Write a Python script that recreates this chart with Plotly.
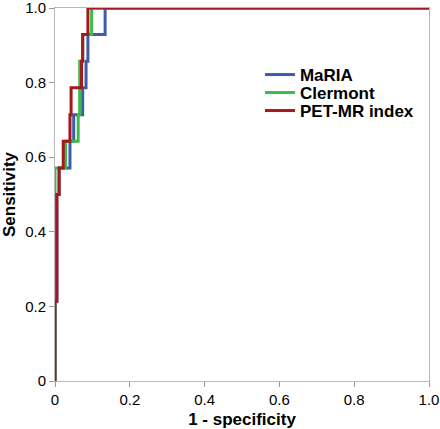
import plotly.graph_objects as go

# ROC step curves (1 - specificity, sensitivity)
maria_fpr = [0, 0, 0.005, 0.005, 0.011, 0.011, 0.040, 0.040, 0.050, 0.050, 0.074, 0.074, 0.083, 0.083, 0.088, 0.088, 0.134, 0.134, 1.0]
maria_tpr = [0, 0.214, 0.214, 0.5, 0.5, 0.571, 0.571, 0.643, 0.643, 0.714, 0.714, 0.786, 0.786, 0.857, 0.857, 0.929, 0.929, 1.0, 1.0]

clermont_fpr = [0, 0, 0.028, 0.028, 0.062, 0.062, 0.066, 0.066, 0.074, 0.074, 0.098, 0.098, 1.0]
clermont_tpr = [0, 0.571, 0.571, 0.643, 0.643, 0.714, 0.714, 0.857, 0.857, 0.929, 0.929, 1.0, 1.0]

petmr_fpr = [0, 0, 0.005, 0.005, 0.011, 0.011, 0.022, 0.022, 0.040, 0.040, 0.043, 0.043, 0.071, 0.071, 0.074, 0.074, 0.088, 0.088, 1.0]
petmr_tpr = [0, 0.214, 0.214, 0.5, 0.5, 0.571, 0.571, 0.643, 0.643, 0.714, 0.714, 0.786, 0.786, 0.857, 0.857, 0.929, 0.929, 1.0, 1.0]

tick_vals = [0, 0.2, 0.4, 0.6, 0.8, 1.0]
tick_text = ["0", "0.2", "0.4", "0.6", "0.8", "1.0"]

series = [
    ("MaRIA", maria_fpr, maria_tpr, "#3f5bab", "legend"),
    ("Clermont", clermont_fpr, clermont_tpr, "#3dbb4a", "legend2"),
    ("PET-MR index", petmr_fpr, petmr_tpr, "#a3191e", "legend3"),
]

FONT = "Liberation Sans, Arial"

fig = go.Figure()
for name, xs, ys, col, leg in series:
    fig.add_trace(go.Scatter(x=xs, y=ys, mode="lines", name=name, legend=leg,
                             line=dict(color=col, width=3), cliponaxis=False))

axis_common = dict(
    range=[0, 1.0], tickvals=tick_vals, ticktext=tick_text,
    showgrid=False, zeroline=False, ticks="outside", ticklen=5,
    tickcolor="#999999", showline=True, linecolor="#b8b8b8", linewidth=1,
    mirror=True, automargin=False, ticklabeloverflow="allow",
    tickfont=dict(family=FONT, size=15, color="#000"),
)

leg_common = dict(x=0.548, xanchor="left", yanchor="middle",
                  bgcolor="rgba(0,0,0,0)", itemwidth=30,
                  font=dict(family=FONT, size=17, color="#000", weight="bold"))

fig.update_layout(
    width=440, height=429,
    margin=dict(l=55, r=11, t=8, b=48),
    paper_bgcolor="white", plot_bgcolor="white",
    showlegend=True,
    legend=dict(leg_common, y=0.8204),
    legend2=dict(leg_common, y=0.7721),
    legend3=dict(leg_common, y=0.7239),
    xaxis=dict(axis_common, title=dict(text="<b>1 - specificity</b>", standoff=6,
                                       font=dict(family=FONT, size=17, color="#000"))),
    yaxis=dict(axis_common, title=dict(text="<b>Sensitivity</b>", standoff=6,
                                       font=dict(family=FONT, size=17, color="#000"))),
)

fig.write_html("out.html", config={"displayModeBar": False},
               post_script="document.body.style.margin='0';document.body.style.overflow='hidden';")
